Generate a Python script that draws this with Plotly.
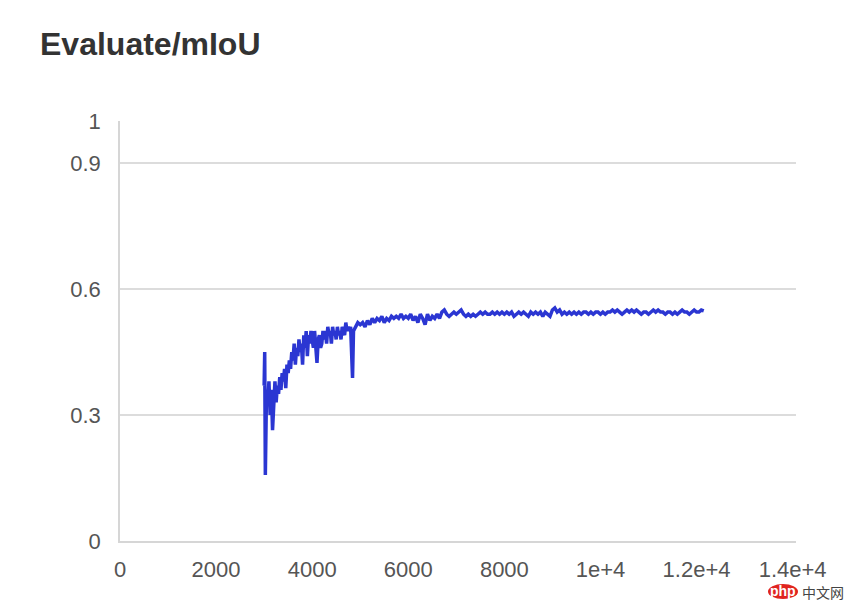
import plotly.graph_objects as go

steps = [
    3000, 3012, 3025, 3050, 3075, 3100, 3125, 3150, 3175, 3200, 3225, 3250, 3275, 3300,
    3325, 3350, 3375, 3400, 3425, 3450, 3475, 3500, 3525, 3550, 3575, 3600, 3625, 3650,
    3675, 3700, 3725, 3750, 3775, 3800, 3825, 3850, 3875, 3900, 3925, 3950, 3975, 4000,
    4025, 4050, 4075, 4100, 4125, 4150, 4175, 4200, 4225, 4250, 4275, 4300, 4325, 4350,
    4375, 4400, 4425, 4450, 4475, 4500, 4525, 4550, 4575, 4600, 4625, 4650, 4675, 4700,
    4725, 4750, 4775, 4800, 4840, 4860, 4900, 4950, 5000,
    5050, 5100, 5150, 5200, 5250, 5300, 5350, 5400, 5450, 5500, 5550, 5600, 5650, 5700,
    5750, 5800, 5850, 5900, 5950, 6000,
    6050, 6100, 6150, 6200, 6250, 6300, 6350, 6400, 6450, 6500, 6550, 6600, 6650, 6700,
    6750, 6800, 6850, 6900, 6950, 7000, 7050, 7100, 7150, 7200, 7250, 7300, 7350, 7400,
    7450, 7500, 7550, 7600, 7650, 7700, 7750, 7800, 7850, 7900, 7950, 8000,
    8050, 8100, 8150, 8200, 8250, 8300, 8350, 8400, 8450, 8500, 8550, 8600, 8650, 8700,
    8750, 8800, 8850, 8900, 8950, 9000, 9050, 9100, 9150, 9200, 9250, 9300, 9350, 9400,
    9450, 9500, 9550, 9600, 9650, 9700, 9750, 9800, 9850, 9900, 9950, 10000,
    10050, 10100, 10150, 10200, 10250, 10300, 10350, 10400, 10450, 10500, 10550, 10600,
    10650, 10700, 10750, 10800, 10850, 10900, 10950, 11000, 11050, 11100, 11150, 11200,
    11250, 11300, 11350, 11400, 11450, 11500, 11550, 11600, 11650, 11700, 11750, 11800,
    11850, 11900, 11950, 12000, 12050, 12100, 12150,
]

miou = [
    0.37, 0.45, 0.157, 0.36, 0.33, 0.38, 0.30, 0.36, 0.264, 0.34, 0.38, 0.33, 0.37, 0.35,
    0.39, 0.36, 0.40, 0.38, 0.41, 0.364, 0.42, 0.40, 0.43, 0.41, 0.45, 0.43, 0.47, 0.42,
    0.46, 0.44, 0.48, 0.45, 0.47, 0.42, 0.49, 0.46, 0.50, 0.44, 0.49, 0.47, 0.50, 0.48,
    0.46, 0.50, 0.47, 0.424, 0.48, 0.49, 0.46, 0.47, 0.50, 0.48, 0.50, 0.47, 0.51, 0.49,
    0.50, 0.47, 0.51, 0.49, 0.50, 0.48, 0.51, 0.49, 0.50, 0.48, 0.51, 0.50, 0.49, 0.52,
    0.50, 0.51, 0.50, 0.51, 0.388, 0.50, 0.51, 0.52, 0.515,
    0.52, 0.51, 0.525, 0.515, 0.53, 0.52, 0.53, 0.525, 0.535, 0.52, 0.53, 0.525, 0.535, 0.53,
    0.535, 0.53, 0.54, 0.53, 0.535, 0.53,
    0.54, 0.525, 0.535, 0.52, 0.54, 0.53, 0.515, 0.54, 0.525, 0.535, 0.53, 0.54, 0.53, 0.545,
    0.55, 0.54, 0.535, 0.54, 0.545, 0.54, 0.545, 0.55, 0.54, 0.535, 0.54, 0.535, 0.54, 0.535,
    0.54, 0.545, 0.54, 0.545, 0.54, 0.54, 0.545, 0.54, 0.545, 0.54, 0.545, 0.54,
    0.545, 0.54, 0.545, 0.535, 0.54, 0.545, 0.54, 0.545, 0.54, 0.535, 0.545, 0.54, 0.545, 0.54,
    0.545, 0.535, 0.545, 0.54, 0.535, 0.55, 0.555, 0.545, 0.55, 0.54, 0.545, 0.54, 0.545, 0.54,
    0.545, 0.54, 0.545, 0.54, 0.545, 0.545, 0.54, 0.545, 0.54, 0.545, 0.545, 0.54,
    0.545, 0.54, 0.545, 0.545, 0.55, 0.545, 0.55, 0.545, 0.54, 0.545, 0.55, 0.545,
    0.55, 0.545, 0.55, 0.545, 0.54, 0.545, 0.545, 0.54, 0.545, 0.55, 0.545, 0.55,
    0.545, 0.545, 0.54, 0.545, 0.545, 0.54, 0.545, 0.54, 0.545, 0.55, 0.545, 0.545,
    0.54, 0.545, 0.55, 0.545, 0.545, 0.55, 0.548,
]

x_tickvals = [0, 2000, 4000, 6000, 8000, 10000, 12000, 14000]
x_ticktext = ["0", "2000", "4000", "6000", "8000", "1e+4", "1.2e+4", "1.4e+4"]
y_tickvals = [0, 0.3, 0.6, 0.9, 1]
y_ticktext = ["0", "0.3", "0.6", "0.9", "1"]

title_text = "Evaluate/mIoU"

# page has an 8px body margin; figure sized to fill the remaining window
W, H = 848, 594
L, R, T, B = 112, 60, 113, 61
PW, PH = W - L - R, H - T - B


def px_x(page_x):
    return (page_x - 8 - L) / PW


def px_y(page_y):
    return 1 - (page_y - 8 - T) / PH


fig = go.Figure()
fig.add_trace(go.Scatter(
    x=steps, y=miou, mode="lines",
    line=dict(color="#2B36D2", width=3.5),
    hoverinfo="x+y", showlegend=False,
))

font_family = "Liberation Sans, Arial, Helvetica, sans-serif"

fig.update_layout(
    width=W, height=H,
    margin=dict(l=L, r=R, t=T, b=B),
    paper_bgcolor="white", plot_bgcolor="white",
    font=dict(family=font_family, color="#555555", size=22),
    annotations=[
        dict(text="<b>" + title_text + "</b>", xref="paper", yref="paper",
             x=px_x(38), y=px_y(44), xanchor="left", yanchor="middle",
             showarrow=False, font=dict(size=32, color="#333333", family=font_family)),
        dict(text="中文网", xref="paper", yref="paper",
             x=px_x(846), y=px_y(592), xanchor="right", yanchor="middle",
             showarrow=False, font=dict(size=14, color="#444444",
                                        family="Noto Sans CJK SC")),
        dict(text="<b>php</b>", xref="paper", yref="paper",
             x=px_x(783), y=px_y(591), xanchor="center", yanchor="middle",
             showarrow=False, font=dict(size=14, color="white", family=font_family)),
    ],
    shapes=[
        dict(type="circle", xref="paper", yref="paper",
             x0=px_x(768), x1=px_x(798), y0=px_y(599), y1=px_y(584),
             fillcolor="#E0241F", line=dict(width=0), layer="above"),
    ],
)

fig.update_xaxes(
    range=[0, 14070], tickvals=x_tickvals, ticktext=x_ticktext,
    showgrid=False, zeroline=False,
    showline=True, linecolor="#D6D6D6", linewidth=1.5,
    ticks="", ticklabelstandoff=8,
    tickfont=dict(size=22, color="#555555"),
)
fig.update_yaxes(
    range=[0, 1], tickvals=y_tickvals, ticktext=y_ticktext,
    showgrid=True, gridcolor="#DCDCDC", gridwidth=1.5,
    zeroline=False, showline=True, linecolor="#D6D6D6", linewidth=1.5,
    ticks="", ticklabelstandoff=13,
    tickfont=dict(size=22, color="#555555"),
)

fig.write_html("out.html")
